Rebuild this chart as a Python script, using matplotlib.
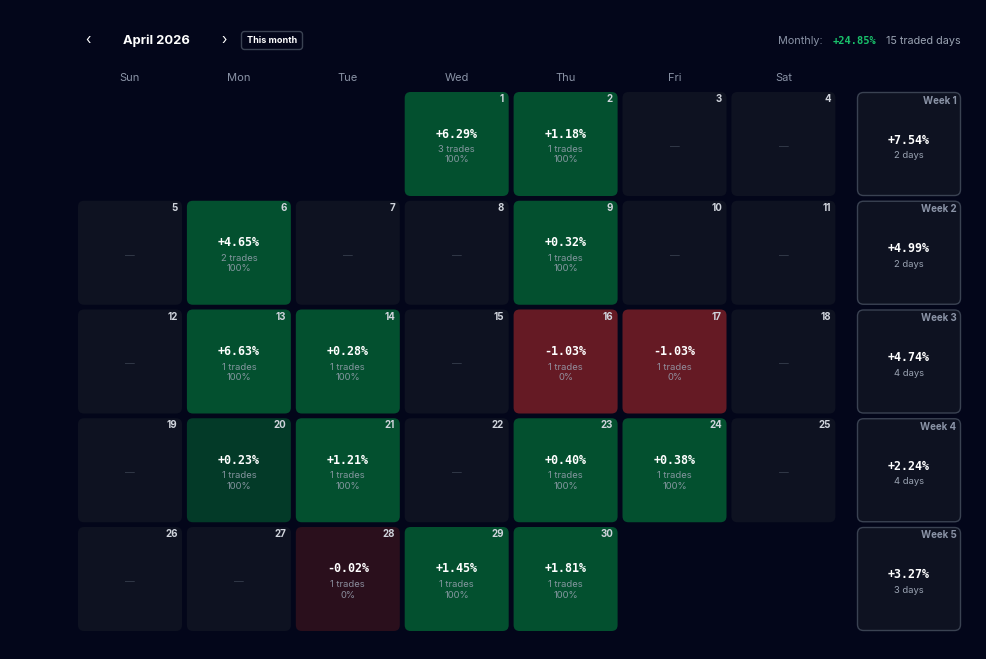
import matplotlib
matplotlib.use("Agg")
import matplotlib.pyplot as plt
from matplotlib.patches import FancyBboxPatch

# ---- data ----
month_title = "April 2026"
weekdays = ["Sun", "Mon", "Tue", "Wed", "Thu", "Fri", "Sat"]
first_weekday = 3   # April 1 2026 is a Wednesday
n_days = 30
traded_days = [1, 2, 6, 9, 13, 14, 16, 17, 20, 21, 23, 24, 28, 29, 30]
pnl_pct = [6.29, 1.18, 4.65, 0.32, 6.63, 0.28, -1.03, -1.03, 0.23, 1.21, 0.40, 0.38, -0.02, 1.45, 1.81]
n_trades = [3, 1, 2, 1, 1, 1, 1, 1, 1, 1, 1, 1, 1, 1, 1]
win_rate = [100, 100, 100, 100, 100, 100, 0, 0, 100, 100, 100, 100, 0, 100, 100]
week_labels = ["Week 1", "Week 2", "Week 3", "Week 4", "Week 5"]
week_pnl = [7.54, 4.99, 4.74, 2.24, 3.27]
week_days = [2, 2, 4, 4, 3]
monthly_pnl = 24.85
monthly_days = 15

# ---- style ----
BG = "#03061a"
EMPTY = "#0e1221"
GREEN = "#03502f"
GREEN_DIM = "#033a28"
RED = "#651a24"
RED_DIM = "#2a0f1c"
GRAY = "#8a93a6"
SUB = "#9aa3b2"
SANS = ["Inter", "DejaVu Sans"]
MONO = ["DejaVu Sans Mono"]

fig = plt.figure(figsize=(9.86, 6.59), dpi=100, facecolor=BG)
ax = fig.add_axes([0, 0, 1, 1])
ax.set_xlim(0, 986)
ax.set_ylim(659, 0)
ax.axis("off")
ax.set_facecolor(BG)

X0, Y0, PX, PY, W, H = 78, 92, 108.9, 108.75, 104, 104

# header
ax.text(88, 40, "‹", color="white", fontsize=10, ha="center", va="center", family=SANS)
ax.text(156, 41, month_title, color="white", fontsize=9.3, fontweight="bold", ha="center", va="center", family=SANS)
ax.text(224, 40, "›", color="white", fontsize=10, ha="center", va="center", family=SANS)
ax.add_patch(FancyBboxPatch((241.5, 31.5), 61, 18, boxstyle="round,pad=0,rounding_size=3",
                            facecolor="none", edgecolor="#3a4252", lw=1))
ax.text(272, 40.5, "This month", color="white", fontsize=6.5, fontweight="bold", ha="center", va="center", family=SANS)

ax.text(823, 41, "Monthly:", color=GRAY, fontsize=7.8, ha="right", va="center", family=SANS)
ax.text(833, 41, f"+{monthly_pnl:.2f}%", color="#19c06a", fontsize=7.5, fontweight="bold", ha="left", va="center", family=MONO)
ax.text(961, 41, f"{monthly_days} traded days", color=SUB, fontsize=7.8, ha="right", va="center", family=SANS)

for i, wd in enumerate(weekdays):
    ax.text(X0 + i * PX + W / 2, 78, wd, color=GRAY, fontsize=8, ha="center", va="center", family=SANS)

lookup = {d: (p, t, w) for d, p, t, w in zip(traded_days, pnl_pct, n_trades, win_rate)}

for day in range(1, n_days + 1):
    idx = first_weekday + day - 1
    row, col = divmod(idx, 7)
    x = X0 + col * PX
    y = Y0 + row * PY
    if day in lookup:
        p, t, w = lookup[day]
        if p >= 0:
            fc = GREEN if p >= 0.25 else GREEN_DIM
        else:
            fc = RED if p <= -0.25 else RED_DIM
    else:
        fc = EMPTY
    ax.add_patch(FancyBboxPatch((x, y), W, H, boxstyle="round,pad=0,rounding_size=6",
                                facecolor=fc, edgecolor="none"))
    ax.text(x + W - 4.5, y + 7, str(day), color="#d0d4dc", fontsize=7, fontweight="bold",
            ha="right", va="center", family=SANS)
    cx = x + W / 2
    if day in lookup:
        p, t, w = lookup[day]
        ax.text(cx, y + 42, f"{p:+.2f}%", color="white", fontsize=8.4, fontweight="bold",
                ha="center", va="center", family=MONO)
        ax.text(cx, y + 57.5, f"{t} trades", color=SUB, fontsize=6.8, ha="center", va="center",
                family=SANS, alpha=0.85)
        ax.text(cx, y + 68, f"{w}%", color=SUB, fontsize=6.8, ha="center", va="center",
                family=SANS, alpha=0.85)
    else:
        ax.text(cx, y + 55, "—", color="#353c4c", fontsize=7, ha="center", va="center", family=SANS)

WX = 857.5
for r, (lab, wp, wdays) in enumerate(zip(week_labels, week_pnl, week_days)):
    y = Y0 + r * PY + 0.5
    ax.add_patch(FancyBboxPatch((WX, y), 103, 103, boxstyle="round,pad=0,rounding_size=6",
                                facecolor=EMPTY, edgecolor="#3a4252", lw=1))
    ax.text(WX + 99, y + 8, lab, color=GRAY, fontsize=7, fontweight="bold", ha="right", va="center", family=SANS)
    ax.text(WX + 51.5, y + 47.5, f"{wp:+.2f}%", color="white", fontsize=8.4, fontweight="bold",
            ha="center", va="center", family=MONO)
    ax.text(WX + 51.5, y + 63, f"{wdays} days", color=SUB, fontsize=6.8, ha="center", va="center", family=SANS)

fig.savefig("out.png", dpi=100, facecolor=BG)
